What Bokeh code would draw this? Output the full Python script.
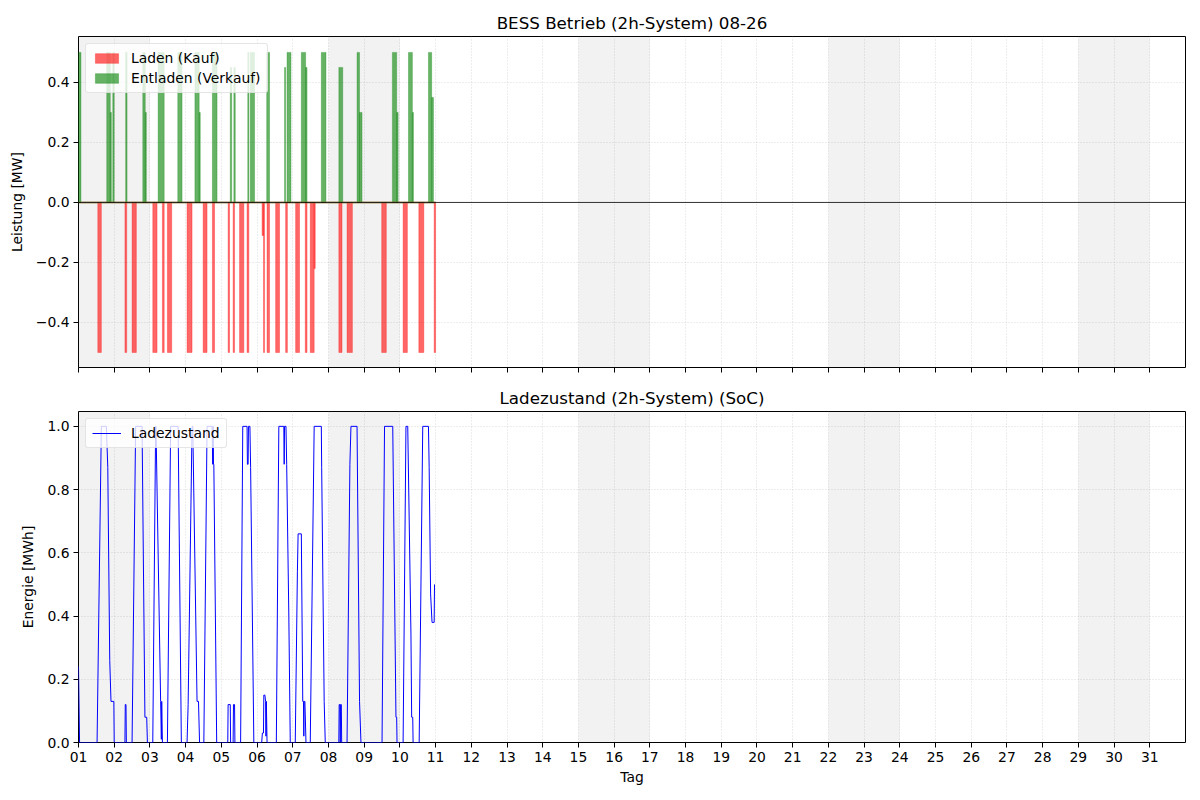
from bokeh.plotting import figure
from bokeh.layouts import column
from bokeh.models import (FixedTicker, BoxAnnotation, Span, Range1d,
                          CustomJSTickFormatter)
from bokeh.embed import file_html
from bokeh.resources import INLINE

# ---------------- data ----------------
days = list(range(1, 32))
weekend_start = [1, 8, 15, 22, 29]
weekend_end = [3, 10, 17, 24, 31]

# Charging (Laden / Kauf): start day, end day, power [MW]
charge_start = [1.54, 2.30, 2.50, 3.08, 3.35, 3.49, 4.04, 4.49, 4.75, 5.19,
                5.33, 5.51, 5.72, 6.14, 6.18, 6.28, 6.52, 6.80, 7.08, 7.35,
                7.49, 7.60, 8.29, 8.52, 9.49, 10.09, 10.53, 10.96]
charge_end = [1.64, 2.35, 2.62, 3.20, 3.40, 3.61, 4.18, 4.60, 4.81, 5.23,
              5.37, 5.63, 5.77, 6.18, 6.21, 6.35, 6.63, 6.85, 7.19, 7.40,
              7.60, 7.63, 8.38, 8.67, 9.62, 10.21, 10.67, 11.00]
charge_power = [-0.5, -0.5, -0.5, -0.5, -0.5, -0.5, -0.5, -0.5, -0.5, -0.5,
                -0.5, -0.5, -0.5, -0.11, -0.5, -0.5, -0.5, -0.5, -0.5, -0.5,
                -0.5, -0.22, -0.5, -0.5, -0.5, -0.5, -0.5, -0.5]

# Discharging (Entladen / Verkauf)
discharge_start = [1.00, 1.79, 1.89, 1.96, 2.32, 2.80, 2.87, 3.23, 3.78, 4.26,
                   4.38, 4.75, 5.25, 5.35, 5.74, 5.81, 6.27, 6.77, 6.84, 7.24,
                   7.36, 7.80, 8.29, 8.80, 8.87, 9.79, 9.91, 10.24, 10.35,
                   10.80, 10.89]
discharge_end = [1.07, 1.89, 1.92, 2.00, 2.36, 2.87, 2.90, 3.40, 3.90, 4.38,
                 4.41, 4.88, 5.29, 5.39, 5.77, 5.93, 6.35, 6.80, 6.95, 7.36,
                 7.40, 7.93, 8.40, 8.87, 8.94, 9.91, 9.95, 10.35, 10.38,
                 10.89, 10.94]
discharge_power = [0.5, 0.5, 0.3, 0.5, 0.5, 0.5, 0.3, 0.5, 0.5, 0.5,
                   0.3, 0.5, 0.45, 0.45, 0.5, 0.5, 0.5, 0.45, 0.5, 0.5,
                   0.45, 0.5, 0.45, 0.5, 0.3, 0.5, 0.3, 0.5, 0.3,
                   0.5, 0.35]

# State of charge [MWh]
soc_time = [1.00, 1.03, 1.52, 1.64, 1.78, 1.82, 1.875, 1.91, 1.99, 2.00,
            2.30, 2.31, 2.33, 2.34, 2.50, 2.60, 2.78, 2.86, 2.91, 2.93,
            3.08, 3.16, 3.17, 3.30, 3.32, 3.33, 3.35, 3.49, 3.58, 3.79,
            3.88, 4.04, 4.07, 4.18, 4.20, 4.32, 4.36, 4.39, 4.51, 4.60,
            4.74, 4.76, 4.77, 4.78, 4.79, 4.87, 5.18, 5.19, 5.25, 5.26,
            5.33, 5.34, 5.37, 5.38, 5.54, 5.60, 5.72, 5.73, 5.75, 5.76,
            5.80, 5.82, 5.91, 6.13, 6.15, 6.18, 6.19, 6.22, 6.24, 6.25,
            6.26, 6.28, 6.35, 6.54, 6.61, 6.75, 6.76, 6.77, 6.81, 6.83,
            6.89, 6.93, 7.07, 7.13, 7.15, 7.24, 7.28, 7.30, 7.31, 7.32,
            7.34, 7.37, 7.49, 7.60, 7.80, 7.81, 7.88, 7.91, 8.29, 8.30,
            8.32, 8.33, 8.34, 8.36, 8.37, 8.52, 8.60, 8.63, 8.80, 8.87,
            8.91, 9.50, 9.57, 9.80, 9.89, 9.91, 9.92, 10.09, 10.17, 10.22,
            10.31, 10.33, 10.36, 10.37, 10.54, 10.64, 10.80, 10.82, 10.86,
            10.90, 10.96, 10.97]
soc_value = [0.24, 0.00, 0.00, 1.00, 1.00, 0.87, 0.26, 0.13, 0.13, 0.00,
             0.00, 0.12, 0.12, 0.00, 0.00, 1.00, 1.00, 0.08, 0.08, 0.00,
             0.00, 1.00, 1.00, 0.13, 0.01, 0.13, 0.00, 0.00, 1.00, 1.00,
             0.00, 0.00, 0.12, 1.00, 1.00, 0.13, 0.13, 0.00, 0.00, 1.00,
             1.00, 0.88, 1.00, 0.88, 0.88, 0.00, 0.00, 0.12, 0.12, 0.00,
             0.00, 0.12, 0.12, 0.00, 0.00, 1.00, 1.00, 0.88, 0.88, 1.00,
             1.00, 0.87, 0.00, 0.00, 0.03, 0.03, 0.15, 0.15, 0.13, 0.02,
             0.13, 0.00, 0.00, 0.00, 1.00, 1.00, 0.88, 1.00, 1.00, 0.88,
             0.40, 0.00, 0.00, 0.54, 0.66, 0.66, 0.13, 0.13, 0.02, 0.13,
             0.13, 0.00, 0.00, 1.00, 1.00, 0.87, 0.13, 0.00, 0.00, 0.12,
             0.12, 0.00, 0.12, 0.12, 0.00, 0.00, 0.88, 1.00, 1.00, 0.13,
             0.00, 0.00, 1.00, 1.00, 0.08, 0.08, 0.00, 0.00, 1.00, 1.00,
             0.34, 0.08, 0.08, 0.00, 0.00, 1.00, 1.00, 0.87, 0.47,
             0.38, 0.38, 0.50]

power_ticks = [-0.4, -0.2, 0.0, 0.2, 0.4]
energy_ticks = [0.0, 0.2, 0.4, 0.6, 0.8, 1.0]

FONT = "DejaVu Sans"

x_range = Range1d(1, 32)

y_fmt = CustomJSTickFormatter(code="""
const s = Math.abs(tick).toFixed(1);
return tick < -1e-9 ? "\u2212" + s : s;
""")
x_fmt = CustomJSTickFormatter(code="return String(Math.round(tick)).padStart(2, '0');")
x_blank = CustomJSTickFormatter(code="return '';")


def style(p, ylabel, yticks):
    p.title.text_font = FONT
    p.title.text_font_size = "16.7px"
    p.title.text_font_style = "normal"
    p.title.text_color = "black"
    p.title.align = "center"
    p.title.standoff = 8
    p.outline_line_color = "black"
    p.outline_line_width = 1
    p.outline_line_alpha = 1
    p.background_fill_color = "white"
    p.border_fill_color = "white"
    for ax in list(p.xaxis) + list(p.yaxis):
        ax.major_label_text_font = FONT
        ax.major_label_text_font_size = "13.9px"
        ax.major_label_text_color = "black"
        ax.axis_label_text_font = FONT
        ax.axis_label_text_font_size = "13.9px"
        ax.axis_label_text_font_style = "normal"
        ax.axis_label_text_color = "black"
        ax.major_tick_in = 0
        ax.major_tick_out = 5
        ax.minor_tick_in = 0
        ax.minor_tick_out = 0
        ax.major_tick_line_color = "black"
        ax.axis_line_color = None
        ax.major_label_standoff = 4
    p.xaxis.ticker = FixedTicker(ticks=days)
    p.yaxis.ticker = FixedTicker(ticks=yticks)
    p.yaxis.formatter = y_fmt
    p.yaxis.axis_label = ylabel
    p.yaxis.axis_label_standoff = 8
    for g in (p.xgrid, p.ygrid):
        g.grid_line_color = "#b0b0b0"
        g.grid_line_alpha = 0.6
        g.grid_line_dash = "1 2"
        g.grid_line_width = 0.8
    for s, e in zip(weekend_start, weekend_end):
        p.add_layout(BoxAnnotation(left=s, right=e, fill_color="gray",
                                   fill_alpha=0.1, line_color=None,
                                   level="underlay"))


# ---------------- top figure ----------------
p1 = figure(title="BESS Betrieb (2h-System) 08-26",
            x_range=x_range, y_range=Range1d(-0.55, 0.553),
            frame_width=1107, frame_height=331,
            min_border_left=78, min_border_right=2,
            min_border_top=36, min_border_bottom=14,
            output_backend="svg", toolbar_location=None)
style(p1, "Leistung [MW]", power_ticks)
p1.xaxis.formatter = x_blank
p1.xaxis.major_label_text_font_size = "1px"
p1.xaxis.major_label_standoff = 0

p1.quad(left=charge_start, right=charge_end, top=0, bottom=charge_power,
        fill_color="red", fill_alpha=0.6, line_color="red", line_alpha=0.6,
        line_width=0.5, legend_label="Laden (Kauf)")
p1.quad(left=discharge_start, right=discharge_end, top=discharge_power,
        bottom=0, fill_color="green", fill_alpha=0.6, line_color="green",
        line_alpha=0.6, line_width=0.5, legend_label="Entladen (Verkauf)")
p1.segment(x0=[soc_time[0]], x1=[charge_end[-1]], y0=[0], y1=[0],
           line_color="#8a7030", line_width=2, line_alpha=0.7)
p1.add_layout(Span(location=0, dimension="width", line_color="black",
                   line_width=0.8))


def style_legend(p):
    lg = p.legend[0]
    lg.location = "top_left"
    lg.margin = 7
    lg.padding = 6
    lg.spacing = 4
    lg.label_text_font = FONT
    lg.label_text_font_size = "13.9px"
    lg.label_text_color = "black"
    lg.label_standoff = 10
    lg.glyph_width = 29
    lg.glyph_height = 12
    lg.label_height = 16
    lg.border_line_color = "#cccccc"
    lg.border_line_width = 1
    lg.background_fill_alpha = 0.8
    lg.border_radius = 3


style_legend(p1)

# ---------------- bottom figure ----------------
p2 = figure(title="Ladezustand (2h-System) (SoC)",
            x_range=x_range, y_range=Range1d(0, 1.047),
            frame_width=1107, frame_height=331,
            min_border_left=78, min_border_right=2,
            min_border_top=29, min_border_bottom=40,
            output_backend="svg", toolbar_location=None)
style(p2, "Energie [MWh]", energy_ticks)
p2.xaxis.formatter = x_fmt
p2.xaxis.axis_label = "Tag"
p2.xaxis.axis_label_standoff = 4

p2.line(soc_time, soc_value, line_color="blue", line_width=1,
        legend_label="Ladezustand")
style_legend(p2)

layout = column(p1, p2, spacing=0)
open("out.html", "w").write(file_html(layout, INLINE))
